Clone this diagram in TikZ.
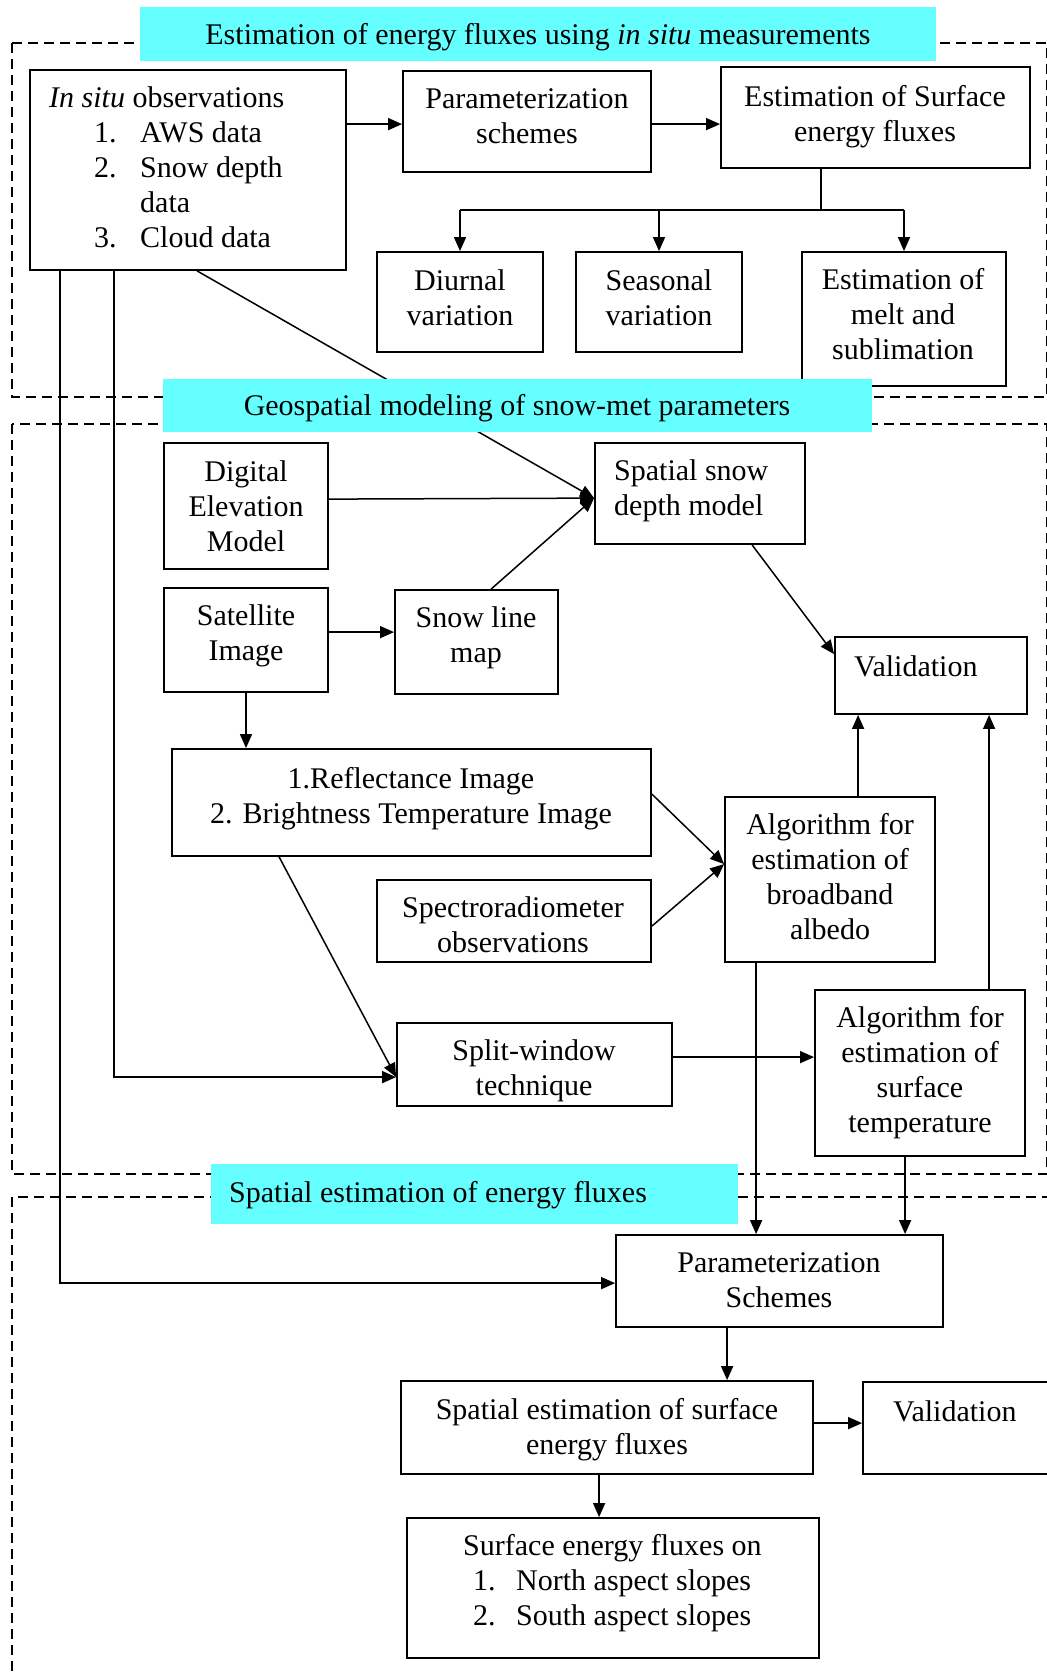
\documentclass[tikz,border=0pt]{standalone}
\usepackage{fontspec}
\setmainfont{Liberation Serif}
\usetikzlibrary{arrows.meta,fit,calc}
\definecolor{titlecyan}{RGB}{102,255,255}
\begin{document}
\begin{tikzpicture}[x=1pt,y=-1pt,
  box/.style={draw, line width=1.8pt, inner sep=0pt},
  txt/.style={font=\fontsize{30}{35}\selectfont, inner sep=0pt, align=center},
  titlebox/.style={fill=titlecyan, inner sep=0pt},
  region/.style={draw, line width=2.4pt, dash pattern=on 10pt off 6pt},
  conn/.style={line width=1.5pt},
  arr/.style={conn, -{Triangle[length=14pt,width=12pt]}},
]
\useasboundingbox (0,0) rectangle (1047,1674);
\clip (0,0) rectangle (1047,1674);

% dashed regions
\draw[region] (12,43) rectangle (1047,397);
\draw[region] (12,424) rectangle (1047,1174);
\draw[region] (12,1197) rectangle (1065,1720);

% boxes
\node[box, fit={(30,70) (346,270)}] (insitu) {};
\node[box, fit={(403,71) (651,172)}] (param1) {};
\node[box, fit={(721,67) (1030,168)}] (estsurf) {};
\node[box, fit={(377,252) (543,352)}] (diurnal) {};
\node[box, fit={(576,252) (742,352)}] (seasonal) {};
\node[box, fit={(802,252) (1006,386)}] (melt) {};
\node[box, fit={(164,443) (328,569)}] (dem) {};
\node[box, fit={(595,443) (805,544)}] (ssdm) {};
\node[box, fit={(164,588) (328,692)}] (sat) {};
\node[box, fit={(395,590) (558,694)}] (snowline) {};
\node[box, fit={(835,637) (1027,714)}] (valid1) {};
\node[box, fit={(172,749) (651,856)}] (refl) {};
\node[box, fit={(725,797) (935,962)}] (albedo) {};
\node[box, fit={(377,880) (651,962)}] (spectro) {};
\node[box, fit={(397,1023) (672,1106)}] (split) {};
\node[box, fit={(815,990) (1025,1156)}] (surftemp) {};
\node[box, fit={(616,1235) (943,1327)}] (param2) {};
\node[box, fit={(401,1381) (813,1474)}] (spatest) {};
\node[box, fit={(863,1382) (1065,1474)}] (valid2) {};
\node[box, fit={(407,1518) (819,1658)}] (surfon) {};

% connector helper coordinates
\coordinate (hubM) at ($(estsurf.south west)+(101,41)$);
\coordinate (hubL) at (hubM -| diurnal.north);
\coordinate (hubR) at (hubM -| melt.north);
\coordinate (meetS) at ($(ssdm.north west)+(0,56)$);
\coordinate (meetA) at ($(albedo.north west)+(0,68)$);
\coordinate (meetW) at ($(split.north west)+(0,55)$);
\coordinate (a1) at ($(albedo.north west)+(134,0)$);
\coordinate (s1) at ($(surftemp.north west)+(175,0)$);
\coordinate (a2) at ($(albedo.south west)+(32,0)$);
\coordinate (s2) at ($(surftemp.south west)+(91,0)$);
\coordinate (i3) at ($(insitu.south west)+(31,0)$);
\coordinate (i2) at ($(insitu.south west)+(85,0)$);
\coordinate (p2) at ($(param2.south west)+(112,0)$);
\coordinate (q1) at ($(spatest.south west)+(199,0)$);

% connectors
\draw[arr] ($(insitu.north east)+(0,55)$) -- ($(param1.north west)+(0,54)$);
\draw[arr] ($(param1.north east)+(0,54)$) -- ($(estsurf.north west)+(0,58)$);
\draw[conn] (hubM |- estsurf.south) -- (hubM);
\draw[conn] (hubL) -- (hubR);
\draw[arr] (hubL) -- (diurnal.north);
\draw[arr] (hubM -| seasonal.north) -- (seasonal.north);
\draw[arr] (hubR) -- (melt.north);
\draw[arr] ($(insitu.south west)+(168,0)$) -- (meetS);
\draw[arr] ($(dem.north east)+(0,57)$) -- (meetS);
\draw[arr] ($(snowline.north west)+(97,0)$) -- (meetS);
\draw[arr] ($(sat.north east)+(0,45)$) -- ($(snowline.north west)+(0,43)$);
\draw[arr] (sat.south) -- (sat.south |- refl.north);
\draw[arr] ($(ssdm.south west)+(158,0)$) -- ($(valid1.north west)+(0,18)$);
\draw[arr] ($(refl.north east)+(0,46)$) -- (meetA);
\draw[arr] ($(spectro.north east)+(0,47)$) -- (meetA);
\draw[arr] ($(refl.south west)+(108,0)$) -- (meetW);
\draw[arr] (i2) |- (meetW);
\draw[arr] ($(split.north east)+(0,35)$) -- ($(surftemp.north west)+(0,68)$);
\draw[arr] (a1) -- (a1 |- valid1.south);
\draw[arr] (s1) -- (s1 |- valid1.south);
\draw[arr] (a2) -- (a2 |- param2.north);
\draw[arr] (s2) -- (s2 |- param2.north);
\draw[arr] (i3) |- ($(param2.north west)+(0,49)$);
\draw[arr] (p2) -- (p2 |- spatest.north);
\draw[arr] ($(spatest.north east)+(0,43)$) -- ($(valid2.north west)+(0,42)$);
\draw[arr] (q1) -- (q1 |- surfon.north);

% titles
\node[titlebox, fit={(140,7) (936,61)}] (t1) {};
\node[titlebox, fit={(163,379) (872,432)}] (t2) {};
\node[titlebox, fit={(211,1164) (738,1224)}] (t3) {};
\node[txt] (t1text) at (538,37) {Estimation of energy fluxes using \textit{in situ} measurements};
\node[txt] (t2text) at (517,408) {Geospatial modeling of snow-met parameters};
\node[txt, anchor=west] (t3text) at (229,1195) {Spatial estimation of energy fluxes};

% box texts
\node[txt, anchor=west, align=left] (insitut) at (49,167) {\textit{In situ} observations\\
\hspace*{45pt}\makebox[46pt][l]{1.}AWS data\\
\hspace*{45pt}\makebox[46pt][l]{2.}Snow depth\\
\hspace*{91pt}data\\
\hspace*{45pt}\makebox[46pt][l]{3.}Cloud data};
\node[txt] (param1t) at (527,116.5) {Parameterization\\schemes};
\node[txt] (estsurft) at (875,117) {Estimation of Surface\\energy fluxes};
\node[txt] (diurnalt) at (460,298) {Diurnal\\variation};
\node[txt] (seasonalt) at (659,298) {Seasonal\\variation};
\node[txt] (meltt) at (903,314) {Estimation of\\melt and\\sublimation};
\node[txt] (demt) at (246,506) {Digital\\Elevation\\Model};
\node[txt, anchor=west, align=left] (ssdmt) at (614,491) {Spatial snow\\depth model};
\node[txt] (satt) at (246,636) {Satellite\\Image};
\node[txt] (snowlinet) at (476,638) {Snow line\\map};
\node[txt, anchor=west] (valid1t) at (854,666) {Validation};
\node[txt] (reflt) at (411,798.5) {1.Reflectance Image\\2. Brightness Temperature Image};
\node[txt] (spectrot) at (513,925) {Spectroradiometer\\observations};
\node[txt] (albedot) at (830,876.5) {Algorithm for\\estimation of\\broadband\\albedo};
\node[txt] (splitt) at (534,1070.5) {Split-window\\technique};
\node[txt] (surftempt) at (920,1073) {Algorithm for\\estimation of\\surface\\temperature};
\node[txt] (param2t) at (779,1280.5) {Parameterization\\Schemes};
\node[txt] (spatestt) at (607,1430) {Spatial estimation of surface\\energy fluxes};
\node[txt, anchor=west] (valid2t) at (893,1411) {Validation};
\node[txt, anchor=west, align=left] (surfont) at (463,1583) {Surface energy fluxes on\\
\hspace*{10pt}\makebox[43pt][l]{1.}North aspect slopes\\
\hspace*{10pt}\makebox[43pt][l]{2.}South aspect slopes};
\end{tikzpicture}
\end{document}
